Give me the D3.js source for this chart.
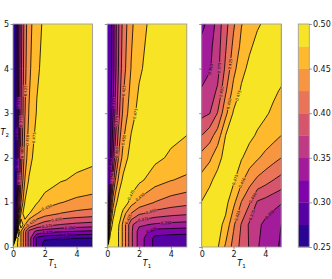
<!DOCTYPE html>
<html>
<head>
<meta charset="utf-8">
<script src="https://cdn.jsdelivr.net/npm/d3@7"></script>
<style>
  body { margin: 0; background: #fff; }
  text { font-family: "DejaVu Sans", sans-serif; }
</style>
</head>
<body>
<svg id="chart" width="332" height="279"></svg>
<script>
'use strict';

// grid nodes (used for both T1 and T2)
const NODES_A = [0, 0.1, 0.2, 0.35, 0.5, 0.75, 1, 1.5, 2, 3, 4, 5];
const NODES_B = [0, 0.5, 1, 1.5, 2, 2.5, 3, 3.5, 4, 4.5, 5];
const LEVELS = [0.25, 0.275, 0.3, 0.325, 0.35, 0.375, 0.4, 0.425, 0.45, 0.475, 0.5];

// rows = T2 nodes (bottom to top), columns = T1 nodes
const panel1 = [
  [.500, .490, .482, .469, .450, .408, .367, .295, .268, .258, .254, .252],
  [.251, .500, .482, .469, .450, .408, .367, .295, .268, .258, .258, .258],
  [.251, .274, .500, .469, .450, .408, .367, .295, .281, .278, .276, .275],
  [.251, .267, .347, .500, .450, .408, .367, .344, .336, .328, .324, .321],
  [.251, .264, .314, .436, .500, .451, .424, .399, .386, .374, .368, .364],
  [.251, .262, .299, .385, .451, .500, .477, .451, .437, .424, .418, .414],
  [.251, .261, .292, .361, .424, .477, .500, .477, .464, .451, .444, .440],
  [.251, .260, .285, .344, .399, .451, .477, .500, .489, .477, .471, .467],
  [.251, .259, .281, .336, .386, .437, .464, .489, .500, .489, .483, .480],
  [.251, .258, .278, .328, .374, .424, .451, .477, .489, .500, .494, .491],
  [.251, .258, .276, .324, .368, .418, .444, .471, .483, .494, .500, .496],
  [.251, .258, .275, .321, .364, .414, .440, .467, .480, .491, .496, .500]
];

const panel2 = [
  [.500, .495, .492, .488, .484, .473, .443, .381, .340, .293, .283, .279],
  [.278, .500, .492, .488, .484, .473, .443, .381, .340, .293, .283, .279],
  [.278, .442, .500, .488, .484, .473, .443, .381, .340, .293, .288, .287],
  [.278, .401, .470, .500, .484, .473, .443, .381, .340, .314, .312, .310],
  [.278, .374, .447, .485, .500, .473, .443, .381, .355, .346, .342, .340],
  [.278, .335, .407, .461, .483, .500, .461, .424, .404, .390, .383, .379],
  [.278, .309, .374, .436, .465, .489, .500, .461, .442, .424, .414, .408],
  [.278, .288, .324, .382, .424, .461, .481, .500, .481, .461, .451, .445],
  [.278, .284, .299, .347, .386, .433, .459, .487, .500, .481, .471, .465],
  [.278, .281, .292, .321, .355, .397, .431, .465, .483, .500, .490, .485],
  [.278, .279, .288, .312, .342, .383, .414, .451, .471, .490, .500, .494],
  [.278, .279, .287, .310, .340, .379, .408, .445, .465, .485, .494, .500]
];

const panel3 = [
  [.488, .485, .478, .446, .416, .392, .373, .352, .341, .331, .322],
  [.485, .488, .483, .469, .429, .398, .371, .356, .344, .335, .325],
  [.476, .484, .488, .483, .457, .424, .403, .372, .366, .359, .352],
  [.458, .471, .482, .488, .479, .455, .435, .420, .410, .400, .392],
  [.435, .445, .467, .483, .488, .477, .464, .453, .443, .434, .425],
  [.400, .415, .436, .475, .486, .488, .481, .472, .465, .458, .450],
  [.368, .374, .401, .443, .478, .486, .488, .484, .478, .471, .461],
  [.352, .364, .378, .421, .458, .479, .486, .488, .486, .479, .473],
  [.341, .347, .367, .405, .442, .467, .481, .486, .488, .487, .484],
  [.331, .343, .364, .397, .431, .456, .471, .482, .486, .488, .487],
  [.320, .331, .361, .391, .421, .449, .461, .472, .479, .484, .488]
];

const X_TICKS = [0, 2, 4];
const Y_TICKS = [0, 1, 2, 3, 4, 5];
const CB_TICKS = [0.25, 0.30, 0.35, 0.40, 0.45, 0.50];

const panels = [
    { grid: panel1, nodes: NODES_A },
    { grid: panel2, nodes: NODES_A },
    { grid: panel3, nodes: NODES_B }
];
const PANEL_LEFT = [13, 107.3, 201.7];
const PANEL_W = 79.5;
const TOP = 24, BOTTOM = 247;
const CB_X = 298.3, CB_W = 11;
// where along each line its label sits (stagger so labels don't stack)
const LABEL_AT = [0.5, 0.36, 0.64, 0.3, 0.56, 0.42, 0.7, 0.48, 0.6];

const svg = d3.select("#chart");
const defs = svg.append("defs");
const y = d3.scaleLinear().domain([0, 5]).range([BOTTOM, TOP]);
const bandColor = i => d3.interpolatePlasma((i + 0.5) / 10);
const fmt = d3.format(".3f");

panels.forEach(({ grid, nodes }, p) => {
    const n = nodes.length;
    const idx = d3.scaleLinear().domain(d3.range(n)).range(nodes);
    const x0 = PANEL_LEFT[p];
    const x = d3.scaleLinear().domain([0, 5]).range([x0, x0 + PANEL_W]);
    const values = grid.flat();

    // grid coordinate -> pixel (value k sits at k + 0.5 in d3.contours space)
    const px = gx => x(idx(gx - 0.5));
    const py = gy => y(idx(gy - 0.5));
    const path = d3.geoPath(d3.geoTransform({
        point(gx, gy) { this.stream.point(px(gx), py(gy)); }
    }));

    defs.append("clipPath").attr("id", "clip" + p)
        .append("rect")
        .attr("x", x0).attr("y", TOP)
        .attr("width", PANEL_W).attr("height", BOTTOM - TOP);

    const g = svg.append("g").attr("clip-path", `url(#clip${p})`);

    // filled bands
    const bands = d3.contours().size([n, n]).thresholds(LEVELS.slice(0, 10))(values);
    g.append("g").selectAll("path")
        .data(bands)
        .join("path")
        .attr("d", path)
        .attr("fill", (d, i) => bandColor(i))
        .attr("stroke", (d, i) => bandColor(i))
        .attr("stroke-width", 0.3);

    // contour lines + inline labels
    const lines = d3.contours().size([n, n]).thresholds(LEVELS.slice(1, 10))(values);
    const labels = [];
    lines.forEach((c, li) => {
        c.coordinates.forEach(poly => poly.forEach(ring => {
            const inside = pt => pt[0] >= 0.5 - 1e-6 && pt[0] <= n - 0.5 + 1e-6 &&
                                 pt[1] >= 0.5 - 1e-6 && pt[1] <= n - 0.5 + 1e-6;
            let start = ring.findIndex(pt => !inside(pt));
            if (start < 0) start = 0;
            const pieces = [];
            let run = [];
            for (let k = 0; k <= ring.length; k++) {
                const pt = ring[(start + k) % ring.length];
                if (inside(pt)) run.push([px(pt[0]), py(pt[1])]);
                else { if (run.length > 1) pieces.push(run); run = []; }
            }
            if (run.length > 1) pieces.push(run);
            pieces.forEach(pc => {
                const cum = [0];
                for (let k = 1; k < pc.length; k++) {
                    cum.push(cum[k - 1] + Math.hypot(pc[k][0] - pc[k - 1][0], pc[k][1] - pc[k - 1][1]));
                }
                const len = cum[cum.length - 1];
                if (len < 45) return;
                const at = s => {
                    const k = Math.max(1, d3.bisectLeft(cum, s));
                    const t = (s - cum[k - 1]) / ((cum[k] - cum[k - 1]) || 1);
                    return [pc[k - 1][0] + t * (pc[k][0] - pc[k - 1][0]),
                            pc[k - 1][1] + t * (pc[k][1] - pc[k - 1][1])];
                };
                const mid = len * LABEL_AT[li];
                const a = at(mid - 4), b = at(mid + 4), m = at(mid);
                let ang = Math.atan2(b[1] - a[1], b[0] - a[0]) * 180 / Math.PI;
                if (ang > 90) ang -= 180;
                if (ang < -90) ang += 180;
                labels.push({ x: m[0], y: m[1], ang, text: fmt(c.value) });
            });
        }));
    });

    const mask = defs.append("mask").attr("id", "mask" + p)
        .attr("maskUnits", "userSpaceOnUse")
        .attr("x", 0).attr("y", 0).attr("width", 332).attr("height", 279);
    mask.append("rect").attr("width", 332).attr("height", 279).attr("fill", "#fff");
    mask.selectAll("rect.hole")
        .data(labels)
        .join("rect")
        .attr("class", "hole")
        .attr("x", -6).attr("y", -2)
        .attr("width", 12).attr("height", 4)
        .attr("transform", d => `translate(${d.x},${d.y}) rotate(${d.ang})`)
        .attr("fill", "#000");

    g.append("g").attr("mask", `url(#mask${p})`)
        .selectAll("path")
        .data(lines)
        .join("path")
        .attr("d", path)
        .attr("fill", "none")
        .attr("stroke", "#000")
        .attr("stroke-width", 0.8);

    g.append("g").selectAll("text")
        .data(labels)
        .join("text")
        .attr("transform", d => `translate(${d.x},${d.y}) rotate(${d.ang})`)
        .attr("text-anchor", "middle")
        .attr("dy", "0.35em")
        .style("font-size", "3.8px")
        .attr("fill", "#000")
        .text(d => d.text);

    // frame
    svg.append("rect")
        .attr("x", x0).attr("y", TOP)
        .attr("width", PANEL_W).attr("height", BOTTOM - TOP)
        .attr("fill", "none").attr("stroke", "#a0a0a0").attr("stroke-width", 0.9);

    // axes
    const xAxis = svg.append("g")
        .attr("transform", `translate(0,${BOTTOM})`)
        .call(d3.axisBottom(x).tickValues(X_TICKS).tickSize(2.5).tickPadding(1.5)
            .tickFormat(d3.format("d")));
    const yAxis = svg.append("g")
        .attr("transform", `translate(${x0},0)`)
        .call(d3.axisLeft(y).tickValues(Y_TICKS).tickSize(2.5).tickPadding(1.5)
            .tickFormat(p === 0 ? d3.format("d") : () => ""));
    [xAxis, yAxis].forEach(ax => {
        ax.select(".domain").remove();
        ax.selectAll(".tick line").attr("stroke", "#666").attr("stroke-width", 0.7);
        ax.selectAll(".tick text").style("font-size", "8px").attr("fill", "#111")
            .style("font-family", "DejaVu Sans, sans-serif");
    });

    // x label
    const xl = svg.append("text")
        .attr("x", x0 + PANEL_W / 2).attr("y", 266)
        .attr("text-anchor", "middle")
        .style("font-size", "8px");
    xl.append("tspan").style("font-style", "italic").text("T");
    xl.append("tspan").attr("dy", 2).style("font-size", "5.5px").text("1");
});

// y label
const yl = svg.append("text")
    .attr("x", 0.5).attr("y", 135)
    .style("font-size", "8px");
yl.append("tspan").style("font-style", "italic").text("T");
yl.append("tspan").attr("dy", 2).style("font-size", "5.5px").text("2");

// colorbar
const cy = d3.scaleLinear().domain([0.25, 0.5]).range([BOTTOM, TOP]);
const cbBands = d3.range(10);
svg.append("g").selectAll("rect")
    .data(cbBands)
    .join("rect")
    .attr("x", CB_X)
    .attr("y", i => cy(LEVELS[i + 1]))
    .attr("width", CB_W)
    .attr("height", i => cy(LEVELS[i]) - cy(LEVELS[i + 1]) + 0.3)
    .attr("fill", i => bandColor(i));
svg.append("rect")
    .attr("x", CB_X).attr("y", TOP)
    .attr("width", CB_W).attr("height", BOTTOM - TOP)
    .attr("fill", "none").attr("stroke", "#a0a0a0").attr("stroke-width", 0.9);
const cbAxis = svg.append("g")
    .attr("transform", `translate(${CB_X + CB_W},0)`)
    .call(d3.axisRight(cy).tickValues(CB_TICKS).tickSize(2.5).tickPadding(1.2).tickFormat(d3.format(".2f")));
cbAxis.select(".domain").remove();
cbAxis.selectAll(".tick line").attr("stroke", "#666").attr("stroke-width", 0.7);
cbAxis.selectAll(".tick text").style("font-size", "8px").attr("fill", "#111")
    .style("font-family", "DejaVu Sans, sans-serif");
</script>
</body>
</html>
